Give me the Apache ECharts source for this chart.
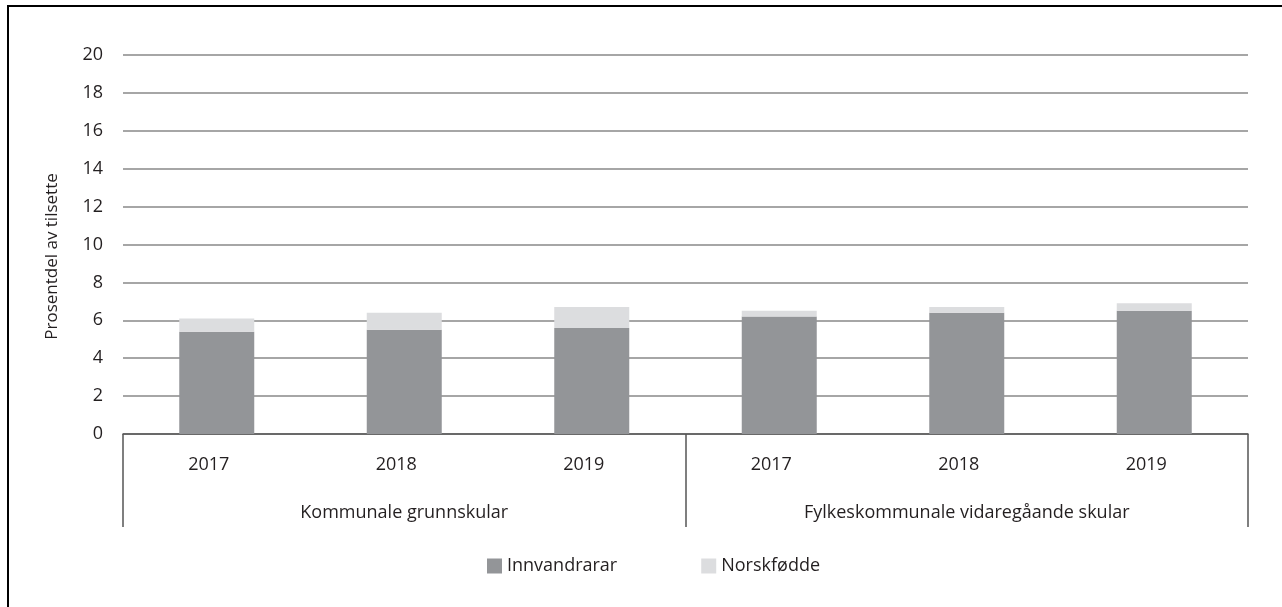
<!DOCTYPE html>
<html>
<head>
<meta charset="utf-8">
<script src="https://cdn.jsdelivr.net/npm/echarts@6/dist/echarts.min.js"></script>
<style>
  html, body { margin: 0; padding: 0; background: #fff; }
  #chart { width: 1282px; height: 607px; }
</style>
</head>
<body>
<div id="chart"></div>
<script>
// kategoriar (år) og grupper
var years = ['2017', '2018', '2019', '2017', '2018', '2019']
var groups = ['Kommunale grunnskular', 'Fylkeskommunale vidaregåande skular']
// prosentdel av tilsette
var innvandrarar = [5.4, 5.5, 5.6, 6.2, 6.4, 6.5]
var norskfodde = [0.7, 0.9, 1.1, 0.3, 0.3, 0.4]
var seriesNames = ['Innvandrarar', 'Norskfødde']

var font = 'Open Sans'
var txt = '#231f20'
var chart = echarts.init(document.getElementById('chart'))
chart.setOption({
  animation: false,
  color: ['#939598', '#dcdddf'],
  textStyle: { fontFamily: font, color: txt },
  // ramme rundt heile figuren
  graphic: [{
    type: 'rect',
    shape: { x: 8, y: 6, width: 1300, height: 640 },
    style: { fill: 'none', stroke: '#000', lineWidth: 2 },
    silent: true
  }],
  grid: { left: 123, right: 34, top: 55, bottom: 173 },
  legend: {
    data: seriesNames,
    left: 482,
    top: 552,
    itemWidth: 15,
    itemHeight: 15,
    itemGap: 84,
    icon: 'rect',
    textStyle: { fontFamily: font, fontSize: 18, color: txt }
  },
  xAxis: [
    {
      type: 'category',
      data: years,
      axisLine: { lineStyle: { color: '#555', width: 1.5 } },
      axisTick: { show: false },
      axisLabel: { fontSize: 18, margin: 22, color: txt, padding: [0, 16, 0, 0] }
    },
    {
      type: 'category',
      data: groups,
      position: 'bottom',
      axisLine: { show: false },
      axisTick: { show: true, length: 93, lineStyle: { color: '#555', width: 1.5 } },
      axisLabel: { fontSize: 18, margin: 70, color: txt }
    }
  ],
  yAxis: {
    type: 'value',
    min: 0,
    max: 20,
    interval: 2,
    name: 'Prosentdel av tilsette',
    nameLocation: 'middle',
    nameGap: 62,
    nameTextStyle: { fontSize: 17, color: txt, padding: [0, 24, 0, 0] },
    axisLine: { show: false },
    axisTick: { show: false },
    axisLabel: { fontSize: 18, margin: 20, color: txt },
    splitLine: { lineStyle: { color: '#888', width: 1.5 } }
  },
  series: [
    {
      name: seriesNames[0],
      type: 'bar',
      stack: 'tilsette',
      barWidth: '40%',
      data: innvandrarar
    },
    {
      name: seriesNames[1],
      type: 'bar',
      stack: 'tilsette',
      data: norskfodde
    }
  ]
})
</script>
</body>
</html>
